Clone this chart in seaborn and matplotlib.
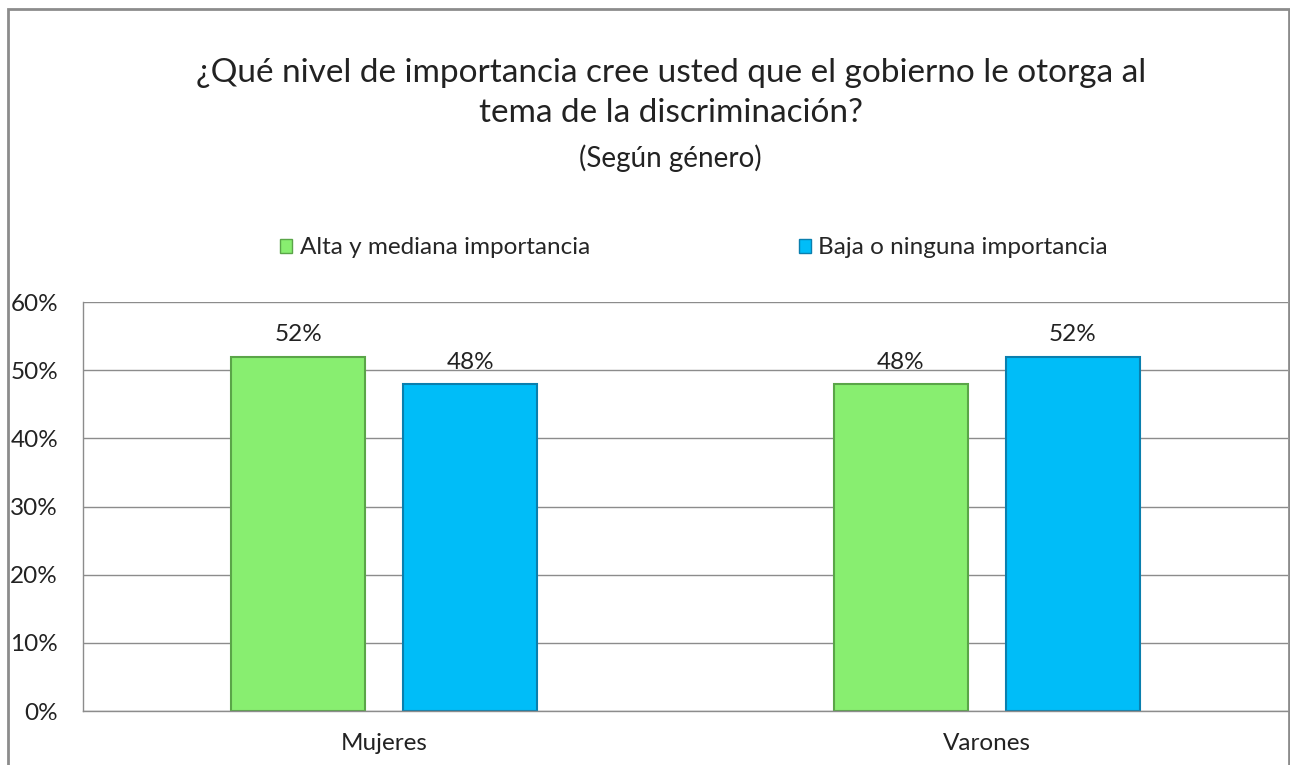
import pandas as pd
import numpy as np
import matplotlib
matplotlib.use("Agg")
import matplotlib.pyplot as plt
import matplotlib.patches as mpatches
import seaborn as sns

# data
grupos = ["Mujeres", "Mujeres", "Varones", "Varones"]
respuestas = ["Alta y mediana importancia", "Baja o ninguna importancia",
              "Alta y mediana importancia", "Baja o ninguna importancia"]
valores = [0.52, 0.48, 0.48, 0.52]
yticks = [0, 0.1, 0.2, 0.3, 0.4, 0.5, 0.6]

colores = {"Alta y mediana importancia": "#88ee70",
           "Baja o ninguna importancia": "#00bdf8"}
bordes = ["#5aa548", "#0a7fae"]

df = pd.DataFrame({"grupo": grupos, "respuesta": respuestas, "valor": valores})

sns.set_theme(style="white")
plt.rcParams["font.family"] = ["Lato", "DejaVu Sans"]

fig = plt.figure(figsize=(12.9, 7.65), dpi=100)
ax = fig.add_axes([83 / 1290, 1 - 711 / 765, 1205 / 1290, 409 / 765])

sns.barplot(data=df, x="grupo", y="valor", hue="respuesta", palette=colores,
            saturation=1, width=0.57, gap=0.22, ax=ax, legend=False)

for cont, ec in zip(ax.containers, bordes):
    for bar in cont:
        bar.set_edgecolor(ec)
        bar.set_linewidth(1.5)
    ax.bar_label(cont, labels=[f"{v:.0%}" for v in cont.datavalues],
                 padding=8, fontsize=17.5, color="#222222")

ax.set_ylim(0, 0.6)
ax.set_yticks(yticks)
ax.set_yticklabels([f"{t:.0%}" for t in yticks], fontsize=17.5, color="#222222")
ax.yaxis.grid(True, color="#8c8c8c", linewidth=1)
ax.set_axisbelow(True)
ax.tick_params(axis="y", pad=18, length=0)
ax.tick_params(axis="x", pad=16, length=0, labelsize=17.5, labelcolor="#222222")
ax.set_xlabel("")
ax.set_ylabel("")
for side in ["top", "right"]:
    ax.spines[side].set_visible(False)
for side in ["left", "bottom"]:
    ax.spines[side].set_color("#8c8c8c")
    ax.spines[side].set_linewidth(1)

# legend on top
handles = [mpatches.Patch(facecolor=colores[k], edgecolor=e, label=k)
           for k, e in zip(colores, bordes)]
fig.legend(handles=handles, loc="center", bbox_to_anchor=(694 / 1290, 1 - 248 / 765),
           ncol=2, frameon=False, fontsize=17.5, handlelength=0.5, handleheight=0.5,
           handletextpad=0.3, columnspacing=8.6)

fig.text(0.52, 1 - 73 / 765,
         "¿Qué nivel de importancia cree usted que el gobierno le otorga al",
         ha="center", va="center", fontsize=24, color="#222222")
fig.text(0.52, 1 - 113 / 765, "tema de la discriminación?",
         ha="center", va="center", fontsize=24, color="#222222")
fig.text(0.52, 1 - 158 / 765, "(Según género)", ha="center", va="center",
         fontsize=20, color="#222222")

# chart border
fig.patches.append(mpatches.Rectangle((8 / 1290, -0.05), 1281 / 1290, 1.05 - 9 / 765,
                                      transform=fig.transFigure, fill=False,
                                      edgecolor="#8c8c8c", linewidth=2))

fig.savefig("out.png", dpi=100)
